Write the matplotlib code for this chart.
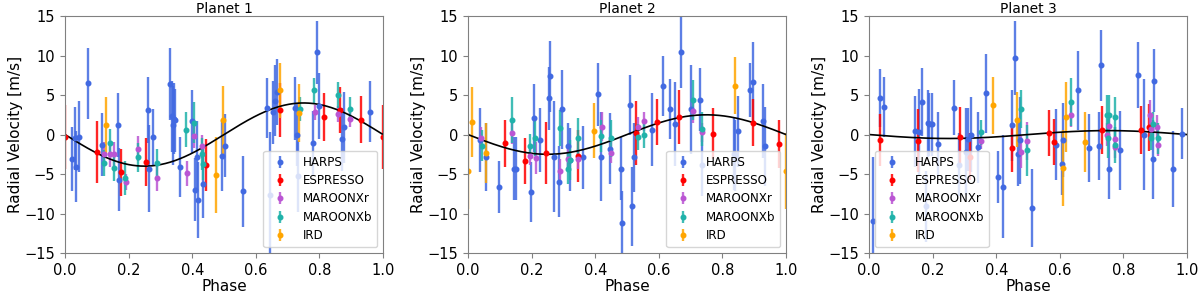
#!/usr/bin/env python3
# Phase-folded radial velocities for three planets, one panel each
import numpy as np
import matplotlib
matplotlib.use("Agg")
import matplotlib.pyplot as plt

INSTRUMENTS = ["HARPS", "ESPRESSO", "MAROONXr", "MAROONXb", "IRD"]
COLORS = ["royalblue", "red", "mediumorchid", "lightseagreen", "orange"]
TITLES = ["Planet 1", "Planet 2", "Planet 3"]
SEMI_AMPLITUDE = [4.0, 2.5, 0.5]   # m/s, fitted model curves

#### Planet 1
p1_harps_phase = [0.022, 0.032, 0.035, 0.044, 0.072, 0.115, 0.165, 0.170, 0.260, 0.265,
                  0.276, 0.331, 0.335, 0.340, 0.344, 0.347, 0.360, 0.400, 0.410, 0.414,
                  0.418, 0.433, 0.494, 0.503, 0.560, 0.635, 0.646, 0.655, 0.660, 0.665,
                  0.722, 0.730, 0.733, 0.780, 0.793, 0.800, 0.872, 0.878, 0.958]
p1_harps_rv = [-3.1, -0.5, -4.1, -0.3, 6.5, -1.3, 1.2, -5.7, 3.1, -4.3,
               -0.3, 6.4, 2.3, 1.2, 2.0, 1.8, -4.1, 1.7, -7.0, -2.8,
               -8.3, -6.2, -2.7, -1.4, -7.2, 3.3, -7.7, 2.8, 4.3, 5.4,
               3.3, 0.0, -5.3, -1.1, 10.4, 3.6, -0.6, 0.9, 2.9]
p1_harps_err = [4.0, 4.0, 4.5, 4.5, 4.5, 4.0, 4.0, 4.0, 4.2, 5.5,
                3.5, 4.6, 4.5, 5.0, 4.5, 4.0, 3.8, 4.0, 4.0, 4.5,
                4.8, 4.4, 4.5, 4.0, 4.5, 3.8, 8.0, 4.0, 4.5, 4.2,
                4.0, 4.0, 4.5, 4.1, 4.0, 4.2, 4.0, 4.5, 3.9]
p1_espresso_phase = [0.000, 0.100, 0.175, 0.255, 0.442, 0.676, 0.814, 0.864, 0.930, 1.000]
p1_espresso_rv = [-0.3, -2.2, -4.8, -3.5, -3.9, 3.1, 2.2, 3.1, 1.9, -0.3]
p1_espresso_err = [4.0, 3.9, 3.0, 3.0, 3.3, 3.4, 3.0, 2.9, 3.0, 4.0]
p1_maroonr_phase = [0.121, 0.142, 0.155, 0.192, 0.231, 0.290, 0.382, 0.404, 0.430, 0.785, 0.858, 0.897]
p1_maroonr_rv = [-2.4, -2.5, -2.5, -6.0, -1.8, -5.5, -4.9, -0.2, -1.5, 2.8, 2.6, 2.0]
p1_maroonr_err = [1.5, 1.6, 1.5, 1.0, 1.6, 1.6, 1.6, 1.5, 1.5, 1.0, 1.0, 1.0]
p1_maroonb_phase = [0.121, 0.142, 0.155, 0.190, 0.231, 0.290, 0.381, 0.405, 0.430, 0.434,
                    0.740, 0.783, 0.858, 0.897]
p1_maroonb_rv = [-3.6, -1.1, -4.2, -5.5, -2.9, -3.6, 0.6, 1.5, -2.5, -3.7,
                 3.2, 5.6, 5.0, 3.2]
p1_maroonb_err = [1.7, 1.8, 1.7, 2.2, 1.8, 1.8, 2.2, 2.6, 2.0, 2.0,
                  1.5, 1.6, 1.6, 1.6]
p1_ird_phase = [0.128, 0.475, 0.498, 0.676, 0.735]
p1_ird_rv = [1.2, -5.1, 1.9, 5.6, 2.7]
p1_ird_err = [3.6, 4.8, 4.3, 3.5, 3.7]

#### Planet 2
p2_harps_phase = [0.038, 0.057, 0.099, 0.145, 0.151, 0.197, 0.206, 0.226, 0.256, 0.258,
                  0.271, 0.286, 0.295, 0.315, 0.321, 0.362, 0.409, 0.419, 0.447, 0.482,
                  0.484, 0.510, 0.516, 0.521, 0.579, 0.614, 0.635, 0.650, 0.670, 0.700,
                  0.728, 0.735, 0.836, 0.840, 0.849, 0.888, 0.897, 0.929, 0.933]
p2_harps_rv = [-0.7, -2.8, -6.6, -4.3, -4.3, -7.3, 2.1, -0.7, 4.6, 7.4,
               -2.8, -6.0, 3.2, -1.5, -3.2, -2.9, 5.1, -2.8, -1.8, -4.3,
               -11.2, 3.8, -9.1, -2.9, 0.6, 6.2, 3.2, 1.3, 10.5, 3.2,
               4.4, -3.8, -2.4, -2.6, 0.4, 5.6, 6.7, 1.7, -1.5]
p2_harps_err = [4.0, 4.3, 3.3, 4.0, 4.0, 3.8, 4.3, 4.0, 4.0, 4.5,
                7.0, 4.5, 5.0, 3.0, 4.0, 4.0, 4.0, 5.6, 4.5, 4.0,
                4.0, 3.8, 5.0, 4.4, 4.6, 3.8, 3.8, 5.3, 4.6, 5.6,
                4.0, 4.0, 4.6, 4.5, 4.5, 3.4, 5.0, 4.7, 5.0]
p2_espresso_phase = [0.115, 0.178, 0.244, 0.347, 0.527, 0.595, 0.664, 0.771, 0.896, 0.977]
p2_espresso_rv = [-1.1, -3.4, -2.3, -2.7, 0.2, 1.6, 2.2, 0.1, 1.5, -1.2]
p2_espresso_err = [3.0, 2.9, 3.9, 3.3, 4.0, 2.9, 3.4, 3.2, 3.0, 3.0]
p2_maroonr_phase = [0.042, 0.138, 0.196, 0.213, 0.288, 0.315, 0.347, 0.420, 0.450,
                    0.534, 0.552, 0.708, 0.737]
p2_maroonr_rv = [-0.4, 0.2, -2.7, -3.0, -4.6, -3.1, -3.1, 1.0, -2.3,
                 0.9, 1.7, 3.0, 0.3]
p2_maroonr_err = [1.3, 1.4, 1.2, 2.0, 1.5, 1.4, 1.3, 1.8, 1.3,
                  1.3, 1.2, 1.5, 1.2]
p2_maroonb_phase = [0.044, 0.139, 0.195, 0.212, 0.288, 0.314, 0.321, 0.347, 0.417, 0.450,
                    0.534, 0.552, 0.708, 0.737]
p2_maroonb_rv = [-1.4, 1.8, -1.5, -0.5, 0.8, -4.3, -3.2, -0.4, -0.2, -0.5,
                 -0.3, -0.1, 4.4, 0.7]
p2_maroonb_err = [2.0, 2.9, 1.6, 2.2, 2.3, 2.0, 2.5, 2.5, 2.0, 2.3,
                  1.6, 1.6, 2.5, 2.2]
p2_ird_phase = [0.000, 0.014, 0.057, 0.396, 0.841, 1.000]
p2_ird_rv = [-4.6, 1.6, -2.3, 0.5, 6.2, -4.6]
p2_ird_err = [4.8, 4.4, 3.8, 3.5, 3.6, 4.8]

#### Planet 3
p3_harps_phase = [0.011, 0.036, 0.046, 0.143, 0.156, 0.167, 0.180, 0.185, 0.190, 0.197,
                  0.217, 0.267, 0.282, 0.305, 0.310, 0.322, 0.344, 0.368, 0.405, 0.420,
                  0.449, 0.460, 0.468, 0.476, 0.512, 0.589, 0.606, 0.611, 0.658, 0.693,
                  0.724, 0.730, 0.756, 0.788, 0.845, 0.866, 0.893, 0.895, 0.956, 0.984]
p3_harps_rv = [-10.9, 4.6, 3.5, 0.4, 0.3, 4.1, -9.1, 1.4, 1.3, 1.3,
               -1.2, 3.4, -3.8, -2.2, -0.6, 0.0, -1.6, 5.2, -5.4, -6.6,
               1.2, 9.7, -2.5, -0.7, -9.3, -1.3, -3.7, -0.7, 5.6, -1.7,
               -1.4, 8.8, -4.3, -2.0, 7.5, 0.0, -3.1, 6.8, -4.4, 0.1]
p3_harps_err = [8.0, 3.7, 3.8, 4.5, 5.5, 4.3, 4.5, 4.3, 4.0, 4.0,
                4.0, 3.5, 4.0, 5.5, 4.0, 4.8, 4.5, 5.0, 3.3, 6.5,
                4.5, 4.7, 4.0, 5.5, 5.0, 4.5, 4.0, 4.7, 5.0, 4.3,
                4.3, 4.5, 3.9, 5.0, 4.2, 7.0, 5.0, 4.0, 4.8, 3.2]
p3_espresso_phase = [0.036, 0.154, 0.287, 0.316, 0.449, 0.565, 0.582, 0.734, 0.856, 0.879]
p3_espresso_rv = [-0.7, -0.8, -0.3, -2.8, -1.7, 0.2, -0.9, 0.6, 0.6, 0.9]
p3_espresso_err = [3.3, 4.0, 3.8, 3.0, 3.1, 2.9, 2.9, 3.0, 3.0, 3.0]
p3_maroonr_phase = [0.352, 0.478, 0.496, 0.634, 0.749, 0.754, 0.773, 0.775,
                    0.885, 0.888, 0.906, 0.908]
p3_maroonr_rv = [-0.8, -2.2, -0.8, 2.5, 0.0, 1.1, -0.6, -1.6,
                 2.5, 0.7, 1.0, -1.3]
p3_maroonr_err = [1.0, 2.0, 2.4, 1.6, 1.5, 1.5, 1.5, 1.4,
                  1.9, 1.5, 1.5, 1.4]
p3_maroonb_phase = [0.352, 0.479, 0.497, 0.634, 0.749, 0.754, 0.752, 0.773, 0.775,
                    0.888, 0.893, 0.909]
p3_maroonb_rv = [0.3, 3.2, -2.0, 4.1, 2.5, 2.5, -0.5, 2.2, -1.3,
                 -0.5, 1.3, -0.5]
p3_maroonb_err = [1.6, 2.4, 3.2, 3.0, 2.5, 2.5, 2.5, 2.5, 2.3,
                  1.5, 1.6, 2.0]
p3_ird_phase = [0.389, 0.464, 0.610, 0.619, 0.680]
p3_ird_rv = [3.7, 1.9, -4.2, 2.2, -0.9]
p3_ird_err = [3.6, 3.5, 4.8, 4.4, 3.8]

PLANETS = [
    [(p1_harps_phase, p1_harps_rv, p1_harps_err),
     (p1_espresso_phase, p1_espresso_rv, p1_espresso_err),
     (p1_maroonr_phase, p1_maroonr_rv, p1_maroonr_err),
     (p1_maroonb_phase, p1_maroonb_rv, p1_maroonb_err),
     (p1_ird_phase, p1_ird_rv, p1_ird_err)],
    [(p2_harps_phase, p2_harps_rv, p2_harps_err),
     (p2_espresso_phase, p2_espresso_rv, p2_espresso_err),
     (p2_maroonr_phase, p2_maroonr_rv, p2_maroonr_err),
     (p2_maroonb_phase, p2_maroonb_rv, p2_maroonb_err),
     (p2_ird_phase, p2_ird_rv, p2_ird_err)],
    [(p3_harps_phase, p3_harps_rv, p3_harps_err),
     (p3_espresso_phase, p3_espresso_rv, p3_espresso_err),
     (p3_maroonr_phase, p3_maroonr_rv, p3_maroonr_err),
     (p3_maroonb_phase, p3_maroonb_rv, p3_maroonb_err),
     (p3_ird_phase, p3_ird_rv, p3_ird_err)],
]
LEGEND_LOC = ["lower right", "lower right", "lower left"]
AX_LEFT = [0.0542, 0.39, 0.7242]

fig = plt.figure(figsize=(12, 2.95), dpi=100)
phaseGrid = np.linspace(0, 1, 400)

for i, planet in enumerate(PLANETS):
    ax = fig.add_axes([AX_LEFT[i], 0.1424, 0.265, 0.803])
    for (ph, rv, err), name, col in zip(planet, INSTRUMENTS, COLORS):
        cont = ax.errorbar(ph, rv, yerr=err, fmt="o", ms=3.3, color=col, ecolor=col,
                           elinewidth=1.7, capsize=0, label=name)
        for bar in cont[2]:
            bar.set_alpha(0.85)
    ax.plot(phaseGrid, -SEMI_AMPLITUDE[i] * np.sin(2 * np.pi * phaseGrid),
            color="black", lw=1.2)
    ax.set_xlim(0, 1)
    ax.set_ylim(-15, 15)
    ax.set_xticks([0, 0.2, 0.4, 0.6, 0.8, 1.0])
    ax.set_yticks([-15, -10, -5, 0, 5, 10, 15])
    ax.tick_params(labelsize=10.5, color="#808080")
    for s in ax.spines.values():
        s.set_color("#808080")
    ax.set_title(TITLES[i], fontsize=10, pad=2)
    ax.set_xlabel("Phase", fontsize=11, labelpad=1)
    ax.set_ylabel("Radial Velocity [m/s]", fontsize=11, labelpad=1)
    ax.legend(loc=LEGEND_LOC[i], fontsize=8.6, labelspacing=0.45,
              handletextpad=0.9)

fig.savefig("out.png", dpi=100)
